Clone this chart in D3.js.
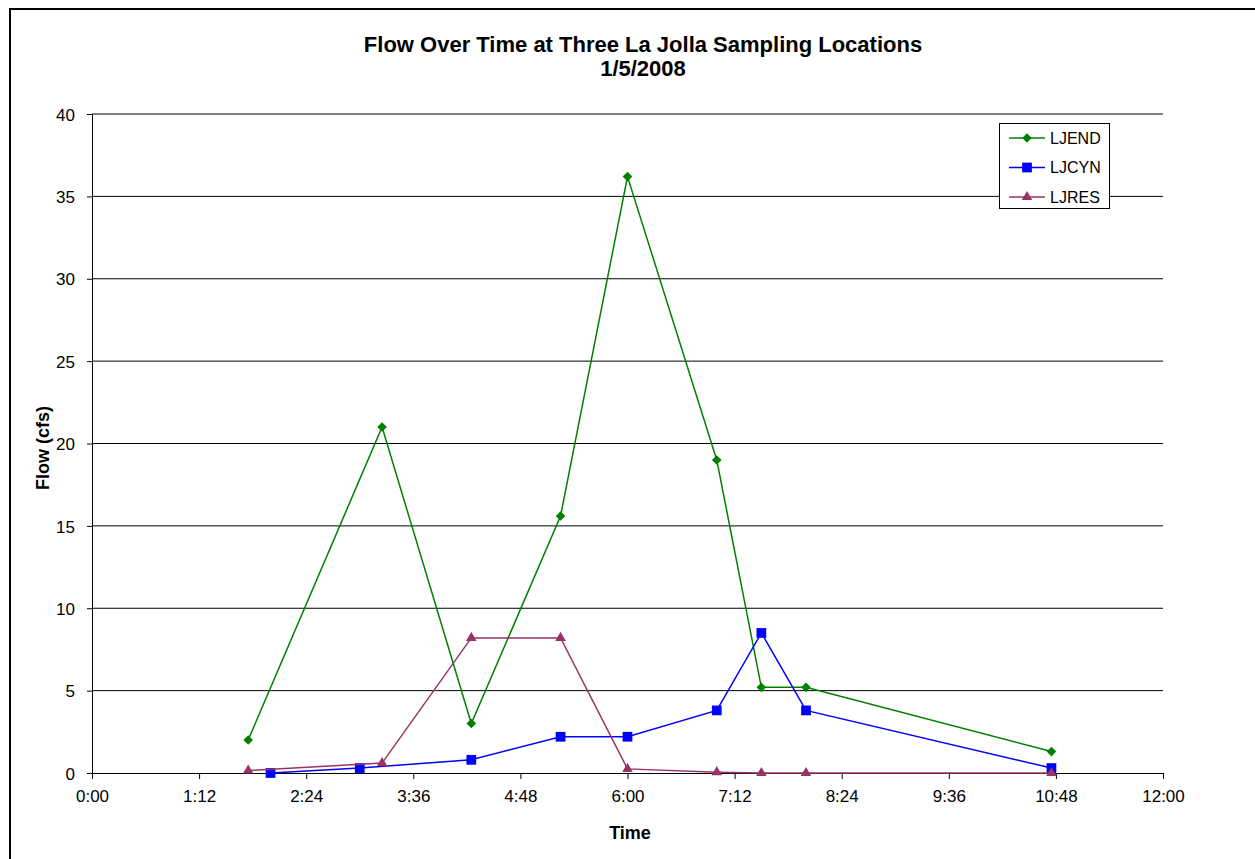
<!DOCTYPE html>
<html>
<head>
<meta charset="utf-8">
<script src="https://cdn.jsdelivr.net/npm/d3@7"></script>
<style>
  body { margin: 0; background: #fff; }
  text { font-family: "Liberation Sans", Arial, sans-serif; }
</style>
</head>
<body>
<div id="chart"></div>
<script>
// sampling times (h:mm) and flows (cfs) for each location
const endTimes = ["1:45", "3:15", "4:15", "5:15", "6:00", "7:00", "7:30", "8:00", "10:45"];
const endFlow  = [2.0, 21.0, 3.0, 15.6, 36.2, 19.0, 5.2, 5.2, 1.3];

const cynTimes = ["2:00", "3:00", "4:15", "5:15", "6:00", "7:00", "7:30", "8:00", "10:45"];
const cynFlow  = [0.0, 0.3, 0.8, 2.2, 2.2, 3.8, 8.5, 3.8, 0.3];

const resTimes = ["1:45", "3:15", "4:15", "5:15", "6:00", "7:00", "7:30", "8:00", "10:45"];
const resFlow  = [0.15, 0.6, 8.2, 8.2, 0.25, 0.05, 0, 0, 0];

const xTicks = [0, 72, 144, 216, 288, 360, 432, 504, 576, 648, 720]; // minutes
const yTicks = [0, 5, 10, 15, 20, 25, 30, 35, 40];

function toMin(s) {
    const p = s.split(":");
    return +p[0] * 60 + +p[1];
}
function fmtTime(m) {
    return Math.floor(m / 60) + ":" + String(m % 60).padStart(2, "0");
}

// diamond = square turned 45 degrees
const series = [
    {name: "LJEND", color: "#008000", shape: d3.symbolSquare, size: 46, rot: 45, times: endTimes, vals: endFlow},
    {name: "LJCYN", color: "#0000FF", shape: d3.symbolSquare, size: 95, rot: 0, times: cynTimes, vals: cynFlow},
    {name: "LJRES", color: "#993366", shape: d3.symbolTriangle, size: 48, rot: 0, times: resTimes, vals: resFlow}
];

const W = 1255, H = 859;
const svg = d3.select("#chart").append("svg")
    .attr("width", W)
    .attr("height", H);

// outer frame (runs off the right and bottom)
svg.append("rect")
    .attr("x", 10).attr("y", 9)
    .attr("width", 1300).attr("height", 900)
    .attr("fill", "#fff")
    .attr("stroke", "#000")
    .attr("stroke-width", 2);

const x = d3.scaleLinear().domain([0, 720]).range([92, 1163]);
const y = d3.scaleLinear().domain([0, 40]).range([773, 114]);

//gridlines
svg.append("g")
    .selectAll("line")
    .data(yTicks.filter(d => d > 0))
    .enter()
    .append("line")
    .attr("x1", 92).attr("x2", 1163)
    .attr("y1", d => y(d)).attr("y2", d => y(d))
    .attr("stroke", "#000")
    .attr("stroke-width", 1);

// axes
const xAxis = svg.append("g")
    .attr("transform", "translate(0," + y(0) + ")")
    .call(d3.axisBottom(x).tickValues(xTicks).tickFormat(fmtTime).tickSize(6).tickSizeOuter(0));
const yAxis = svg.append("g")
    .attr("transform", "translate(" + x(0) + ",0)")
    .call(d3.axisLeft(y).tickValues(yTicks).tickSize(5).tickSizeOuter(0));

[xAxis, yAxis].forEach(a => {
    a.selectAll("path, line").attr("stroke", "#000");
    a.selectAll("text")
        .attr("fill", "#000")
        .style("font-size", "17px")
        .style("font-family", "'Liberation Sans', Arial, sans-serif");
});
xAxis.selectAll("text").attr("dy", "1.2em");
yAxis.selectAll("text").attr("x", -17).attr("dy", "0.36em");

// lines and markers
const line = d3.line()
    .x(d => x(d.t))
    .y(d => y(d.v));

series.forEach(s => {
    const pts = s.times.map((t, i) => ({t: toMin(t), v: s.vals[i]}));
    svg.append("path")
        .datum(pts)
        .attr("d", line)
        .attr("fill", "none")
        .attr("stroke", s.color)
        .attr("stroke-width", 1.5);
    svg.append("g")
        .selectAll("path")
        .data(pts)
        .enter()
        .append("path")
        .attr("d", d3.symbol().type(s.shape).size(s.size))
        .attr("transform", d => "translate(" + x(d.t) + "," + y(d.v) + ") rotate(" + s.rot + ")")
        .attr("fill", s.color);
});

// legend
const lg = svg.append("g");
lg.append("rect")
    .attr("x", 999.5).attr("y", 123.5)
    .attr("width", 110).attr("height", 85)
    .attr("fill", "#fff")
    .attr("stroke", "#000")
    .attr("stroke-width", 1);
series.forEach((s, i) => {
    const ly = 138 + i * 29.5;
    lg.append("line")
        .attr("x1", 1009).attr("x2", 1045)
        .attr("y1", ly).attr("y2", ly)
        .attr("stroke", s.color)
        .attr("stroke-width", 1.5);
    lg.append("path")
        .attr("d", d3.symbol().type(s.shape).size(s.size))
        .attr("transform", "translate(1027," + ly + ") rotate(" + s.rot + ")")
        .attr("fill", s.color);
    lg.append("text")
        .attr("x", 1050).attr("y", ly)
        .attr("dy", "0.36em")
        .style("font-size", "16px")
        .text(s.name);
});

// titles
svg.append("text")
    .attr("x", 643).attr("y", 52)
    .attr("text-anchor", "middle")
    .style("font-size", "22px")
    .style("font-weight", "bold")
    .text("Flow Over Time at Three La Jolla Sampling Locations");
svg.append("text")
    .attr("x", 643).attr("y", 76)
    .attr("text-anchor", "middle")
    .style("font-size", "22px")
    .style("font-weight", "bold")
    .text("1/5/2008");

svg.append("text")
    .attr("x", 630).attr("y", 839)
    .attr("text-anchor", "middle")
    .style("font-size", "18px")
    .style("font-weight", "bold")
    .text("Time");

svg.append("text")
    .attr("transform", "translate(49,448) rotate(-90)")
    .attr("text-anchor", "middle")
    .style("font-size", "18px")
    .style("font-weight", "bold")
    .text("Flow (cfs)");
</script>
</body>
</html>
